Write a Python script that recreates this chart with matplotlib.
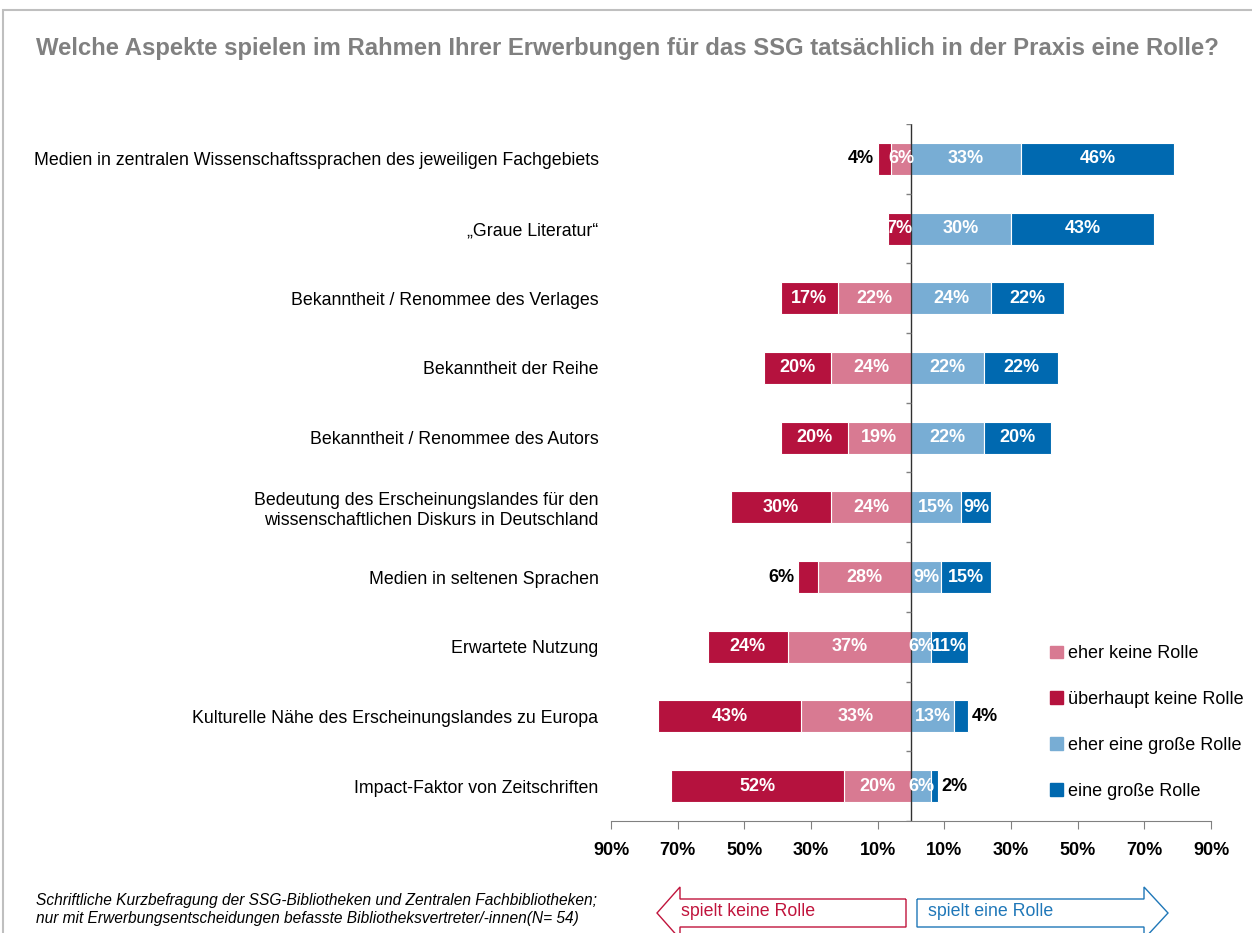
import matplotlib.pyplot as plt
import numpy as np
from matplotlib.patches import Polygon, Rectangle, Patch

plt.rcParams['font.family'] = ['Liberation Sans', 'DejaVu Sans']

categories = ['Medien in zentralen Wissenschaftssprachen des jeweiligen Fachgebiets',
              '\u201eGraue Literatur\u201c',
              'Bekanntheit / Renommee des Verlages',
              'Bekanntheit der Reihe',
              'Bekanntheit / Renommee des Autors',
              'Bedeutung des Erscheinungslandes f\u00fcr den\nwissenschaftlichen Diskurs in Deutschland',
              'Medien in seltenen Sprachen',
              'Erwartete Nutzung',
              'Kulturelle N\u00e4he des Erscheinungslandes zu Europa',
              'Impact-Faktor von Zeitschriften']
ueberhaupt_keine = [4, 7, 17, 20, 20, 30, 6, 24, 43, 52]
eher_keine = [6, 0, 22, 24, 19, 24, 28, 37, 33, 20]
eher_gross = [33, 30, 24, 22, 22, 15, 9, 6, 13, 6]
gross = [46, 43, 22, 22, 20, 9, 15, 11, 4, 2]
ticks = [-90, -70, -50, -30, -10, 10, 30, 50, 70, 90]

c_pink = '#D87A92'
c_red = '#B5123E'
c_lblue = '#78ADD4'
c_blue = '#0069B0'

fig = plt.figure(figsize=(12.52, 9.33), dpi=100)
ax = fig.add_axes([611/1252, 1-821/933, 600/1252, 697/933])

y = np.arange(len(categories))
h = 0.46
ek = np.array(eher_keine)
uk = np.array(ueberhaupt_keine)
eg = np.array(eher_gross)
g = np.array(gross)

segs = [(-ek, 0, ek, c_pink, False),
        (-uk, -ek, uk, c_red, True),
        (eg, 0, eg, c_lblue, False),
        (g, eg, g, c_blue, True)]
for width, left, vals, col, outer in segs:
    ax.barh(y, width, left=left, height=h, color=col, edgecolor='white', linewidth=0.8)
    for i, v in enumerate(vals):
        if v == 0:
            continue
        start = left[i] if np.ndim(left) else left
        end = start + width[i]
        if outer and v <= 6:
            if end < 0:
                ax.text(end - 1.0, i, f'{v}%', ha='right', va='center',
                        fontsize=13, fontweight='bold', color='black')
            else:
                ax.text(end + 1.2, i, f'{v}%', ha='left', va='center',
                        fontsize=13, fontweight='bold', color='black')
        else:
            ax.text((start + end) / 2, i, f'{v}%', ha='center', va='center',
                    fontsize=13, fontweight='bold', color='white')

ax.set_xlim(-90, 90)
ax.set_ylim(len(categories) - 0.5, -0.5)
ax.axvline(0, color='#303030', lw=1)
bounds = np.arange(len(categories) + 1) - 0.5
ax.hlines(bounds, -1.6, 0, color='#808080', lw=1)

ax.set_yticks(y)
ax.set_yticklabels(categories, fontsize=12.8)
ax.tick_params(axis='y', length=0, pad=9)
ax.set_xticks(ticks)
ax.set_xticklabels([f'{abs(t)}%' for t in ticks], fontsize=13, fontweight='bold')
ax.tick_params(axis='x', length=6, color='#808080', pad=9)
for s in ['left', 'right', 'top']:
    ax.spines[s].set_visible(False)
ax.spines['bottom'].set_color('#808080')

fig.text(36/1252, 1-48/933, 'Welche Aspekte spielen im Rahmen Ihrer Erwerbungen f\u00fcr das SSG tats\u00e4chlich in der Praxis eine Rolle?',
         fontsize=17.2, fontweight='bold', color='#808080', va='center', ha='left')

handles = [Patch(color=c_pink), Patch(color=c_red), Patch(color=c_lblue), Patch(color=c_blue)]
labels = ['eher keine Rolle', '\u00fcberhaupt keine Rolle', 'eher eine gro\u00dfe Rolle', 'eine gro\u00dfe Rolle']
fig.legend(handles, labels, loc='upper left', bbox_to_anchor=(1034/1252, 1-629/933),
           frameon=False, fontsize=13, labelspacing=1.6, handlelength=0.7,
           handleheight=0.7, handletextpad=0.3)

fig.text(36/1252, 1-900/933, 'Schriftliche Kurzbefragung der SSG-Bibliotheken und Zentralen Fachbibliotheken;',
         fontsize=11.2, style='italic', va='center')
fig.text(36/1252, 1-918/933, 'nur mit Erwerbungsentscheidungen befasste Bibliotheksvertreter/-innen(N= 54)',
         fontsize=11.2, style='italic', va='center')

# arrows
W, H = 1252, 933
def px(pts):
    return [(x / W, 1 - yy / H) for x, yy in pts]
left_arrow = px([(906, 899), (680, 899), (680, 887), (657, 913), (680, 939), (680, 927), (906, 927)])
right_arrow = px([(917, 899), (1144, 899), (1144, 887), (1168, 913), (1144, 939), (1144, 927), (917, 927)])
fig.patches.append(Polygon(left_arrow, closed=True, fill=False, edgecolor='#C0143C', lw=1, transform=fig.transFigure))
fig.patches.append(Polygon(right_arrow, closed=True, fill=False, edgecolor='#1F77B8', lw=1, transform=fig.transFigure))
fig.text(681/W, 1-912/H, 'spielt keine Rolle', color='#C0143C', fontsize=12.8, va='center')
fig.text(928/W, 1-912/H, 'spielt eine Rolle', color='#1F77B8', fontsize=12.8, va='center')

fig.patches.append(Rectangle((3/W, -0.1), 1.2, 1.1 - 10/H, fill=False, edgecolor='#BFBFBF', lw=1.5,
                             transform=fig.transFigure))

fig.savefig('out.png', dpi=100)
